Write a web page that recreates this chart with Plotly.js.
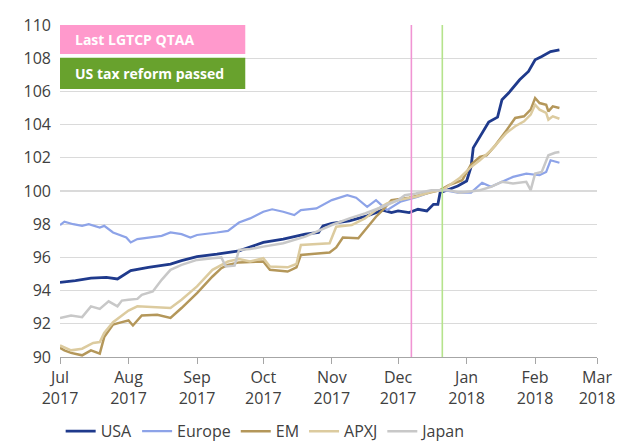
<!DOCTYPE html>
<html>
<head>
<meta charset="utf-8">
<script src="https://cdn.plot.ly/plotly-3.0.1.min.js"></script>
<style>html,body{margin:0;padding:0;background:#fff;}#chart{width:619px;height:441px;}</style>
</head>
<body>
<div id="chart"></div>
<script>
var usaDates = ['2017-07-01','2017-07-08','2017-07-15','2017-07-22','2017-07-27','2017-08-02','2017-08-10','2017-08-20','2017-08-25','2017-09-01','2017-09-10','2017-09-20','2017-10-01','2017-10-10','2017-10-20','2017-10-26','2017-10-28','2017-11-01','2017-11-09','2017-11-17','2017-11-24','2017-11-28','2017-12-01','2017-12-06','2017-12-10','2017-12-14','2017-12-17','2017-12-19','2017-12-20','2017-12-23','2017-12-28','2018-01-01','2018-01-03','2018-01-04','2018-01-08','2018-01-11','2018-01-15','2018-01-17','2018-01-20','2018-01-25','2018-01-29','2018-02-01','2018-02-04','2018-02-08','2018-02-12'];
var usaValues = [94.5,94.6,94.75,94.8,94.7,95.2,95.4,95.6,95.8,96.05,96.2,96.4,96.9,97.1,97.4,97.5,97.9,98.05,98.2,98.5,98.85,98.7,98.8,98.7,98.9,98.8,99.2,99.2,99.9,100.05,100.3,100.6,101.45,102.6,103.5,104.15,104.45,105.5,105.9,106.7,107.2,107.9,108.1,108.4,108.5];

var europeDates = ['2017-07-01','2017-07-03','2017-07-07','2017-07-11','2017-07-14','2017-07-19','2017-07-21','2017-07-25','2017-07-31','2017-08-02','2017-08-05','2017-08-11','2017-08-16','2017-08-20','2017-08-25','2017-08-29','2017-09-01','2017-09-10','2017-09-15','2017-09-20','2017-09-25','2017-10-01','2017-10-05','2017-10-10','2017-10-15','2017-10-18','2017-10-25','2017-11-01','2017-11-08','2017-11-12','2017-11-17','2017-11-21','2017-11-26','2017-12-02','2017-12-10','2017-12-17','2017-12-22','2017-12-28','2018-01-03','2018-01-08','2018-01-12','2018-01-16','2018-01-22','2018-01-28','2018-02-03','2018-02-06','2018-02-08','2018-02-12'];
var europeValues = [97.95,98.15,98.0,97.9,98.0,97.8,97.9,97.5,97.2,96.9,97.1,97.2,97.3,97.5,97.4,97.2,97.35,97.5,97.6,98.1,98.35,98.75,98.9,98.75,98.55,98.85,98.95,99.45,99.75,99.6,99.05,99.45,98.85,99.35,99.65,100.0,100.05,99.9,99.9,100.5,100.25,100.5,100.85,101.05,100.95,101.15,101.85,101.7];

var emDates = ['2017-07-01','2017-07-03','2017-07-06','2017-07-11','2017-07-15','2017-07-19','2017-07-21','2017-07-25','2017-07-29','2017-08-01','2017-08-03','2017-08-07','2017-08-14','2017-08-20','2017-08-25','2017-09-01','2017-09-08','2017-09-12','2017-09-15','2017-09-20','2017-10-01','2017-10-04','2017-10-12','2017-10-16','2017-10-18','2017-10-31','2017-11-03','2017-11-06','2017-11-13','2017-11-16','2017-11-21','2017-11-24','2017-11-28','2017-12-06','2017-12-14','2017-12-20','2017-12-24','2017-12-30','2018-01-03','2018-01-07','2018-01-10','2018-01-14','2018-01-19','2018-01-23','2018-01-27','2018-01-30','2018-02-01','2018-02-03','2018-02-06','2018-02-07','2018-02-09','2018-02-12'];
var emValues = [90.55,90.4,90.25,90.1,90.4,90.2,91.2,91.95,92.1,92.2,91.9,92.5,92.55,92.35,92.95,93.85,94.85,95.35,95.55,95.7,95.75,95.25,95.15,95.4,96.15,96.3,96.6,97.2,97.15,97.65,98.45,98.85,99.45,99.6,99.85,100.05,100.35,100.65,101.6,102.05,102.15,102.75,103.65,104.4,104.5,104.9,105.6,105.3,105.2,104.8,105.1,105.0];

var apxjDates = ['2017-07-01','2017-07-06','2017-07-11','2017-07-16','2017-07-19','2017-07-21','2017-07-25','2017-07-29','2017-08-01','2017-08-05','2017-08-12','2017-08-20','2017-08-25','2017-09-01','2017-09-08','2017-09-15','2017-09-20','2017-09-25','2017-10-01','2017-10-04','2017-10-12','2017-10-16','2017-10-18','2017-10-31','2017-11-03','2017-11-10','2017-11-16','2017-11-21','2017-11-26','2017-12-01','2017-12-09','2017-12-16','2017-12-21','2017-12-29','2018-01-03','2018-01-07','2018-01-12','2018-01-19','2018-01-23','2018-01-27','2018-01-30','2018-02-01','2018-02-03','2018-02-06','2018-02-07','2018-02-09','2018-02-12'];
var apxjValues = [90.7,90.4,90.5,90.85,90.9,91.45,92.1,92.5,92.8,93.05,93.0,92.95,93.45,94.25,95.25,95.75,95.9,95.75,95.95,95.45,95.4,95.6,96.75,96.85,97.85,97.95,98.35,98.85,99.25,99.45,99.65,99.95,100.05,100.8,101.45,101.85,102.45,103.5,103.9,104.2,104.6,105.2,104.9,104.7,104.3,104.5,104.35];

var japanDates = ['2017-07-01','2017-07-06','2017-07-11','2017-07-15','2017-07-19','2017-07-23','2017-07-27','2017-07-29','2017-08-01','2017-08-05','2017-08-07','2017-08-12','2017-08-16','2017-08-20','2017-08-25','2017-09-01','2017-09-08','2017-09-12','2017-09-14','2017-09-18','2017-09-20','2017-09-25','2017-10-01','2017-10-10','2017-10-20','2017-11-01','2017-11-09','2017-11-16','2017-11-24','2017-12-01','2017-12-04','2017-12-09','2017-12-16','2017-12-24','2017-12-29','2018-01-07','2018-01-12','2018-01-17','2018-01-22','2018-01-28','2018-01-30','2018-02-01','2018-02-04','2018-02-07','2018-02-10','2018-02-12'];
var japanValues = [92.35,92.5,92.4,93.05,92.9,93.35,93.05,93.4,93.45,93.5,93.75,93.95,94.65,95.25,95.55,95.85,95.95,96.0,95.45,95.5,96.45,96.5,96.65,96.85,97.25,97.95,98.35,98.65,99.05,99.45,99.75,99.85,100.05,100.05,99.9,100.05,100.25,100.55,100.45,100.55,100.05,101.05,101.15,102.15,102.3,102.35];

var tickDates = ['2017-07-01','2017-08-01','2017-09-01','2017-10-01','2017-11-01','2017-12-01','2018-01-01','2018-02-01','2018-03-01'];
var tickLabels = ['Jul<br>2017','Aug<br>2017','Sep<br>2017','Oct<br>2017','Nov<br>2017','Dec<br>2017','Jan<br>2018','Feb<br>2018','Mar<br>2018'];
var eventDates = ['2017-12-07','2017-12-21'];
var eventLabels = ['Last LGTCP QTAA','US tax reform passed'];

function tr(name, x, y, color, w) {
  return {type:'scatter', mode:'lines', name:name, x:x, y:y, line:{color:color, width:w}, hoverinfo:'skip'};
}
var data = [
  tr('USA', usaDates, usaValues, '#1F3A8C', 2.8),
  tr('Europe', europeDates, europeValues, '#8DA3E8', 2.2),
  tr('EM', emDates, emValues, '#B4975A', 2.5),
  tr('APXJ', apxjDates, apxjValues, '#DCCB9F', 2.5),
  tr('Japan', japanDates, japanValues, '#C8C8C8', 2.5)
];

var font = {family:'"Open Sans", "DejaVu Sans", sans-serif', size:16, color:'#404040'};
var layout = {
  width:619, height:441,
  margin:{l:60, r:22, t:25, b:84},
  paper_bgcolor:'#fff', plot_bgcolor:'#fff',
  font:font,
  showlegend:true,
  legend:{orientation:'h', x:0.098, xanchor:'left', xref:'container', yref:'container', y:0.022, yanchor:'middle', font:font, itemwidth:30, tracegroupgap:0},
  xaxis:{type:'date', range:['2017-07-01','2018-03-01'], tickvals:tickDates, ticktext:tickLabels,
    showgrid:false, showline:true, linecolor:'#A6A6A6', linewidth:1, ticks:'outside', ticklen:6, tickcolor:'#A6A6A6',
    tickfont:font, zeroline:false, automargin:false},
  yaxis:{range:[90,110], dtick:2, tick0:90, showgrid:true, gridcolor:'#DADADA', gridwidth:1.2, zeroline:false,
    showline:false, ticks:'', tickfont:font, ticklabelstandoff:8, automargin:false},
  shapes:[
    {type:'line', xref:'x', yref:'paper', x0:eventDates[0], x1:eventDates[0], y0:0, y1:1, line:{color:'#F095D3', width:1.6}},
    {type:'line', xref:'x', yref:'paper', x0:eventDates[1], x1:eventDates[1], y0:0, y1:1, line:{color:'#B5E38C', width:1.6}},
    {type:'rect', xref:'paper', yref:'paper', x0:0, x1:0.345, y0:0.913, y1:1.0, fillcolor:'#FF99CC', line:{width:0}},
    {type:'rect', xref:'paper', yref:'paper', x0:0, x1:0.345, y0:0.807, y1:0.901, fillcolor:'#68A22D', line:{width:0}}
  ],
  annotations:[
    {xref:'paper', yref:'paper', x:0.025, y:0.9565, xanchor:'left', yanchor:'middle', text:'<b>'+eventLabels[0]+'</b>', showarrow:false,
      font:{family:'"Open Sans", sans-serif', size:14, color:'#fff'}},
    {xref:'paper', yref:'paper', x:0.025, y:0.854, xanchor:'left', yanchor:'middle', text:'<b>'+eventLabels[1]+'</b>', showarrow:false,
      font:{family:'"Open Sans", sans-serif', size:14, color:'#fff'}}
  ]
};
Plotly.newPlot('chart', data, layout, {displayModeBar:false, staticPlot:true});
</script>
</body>
</html>
